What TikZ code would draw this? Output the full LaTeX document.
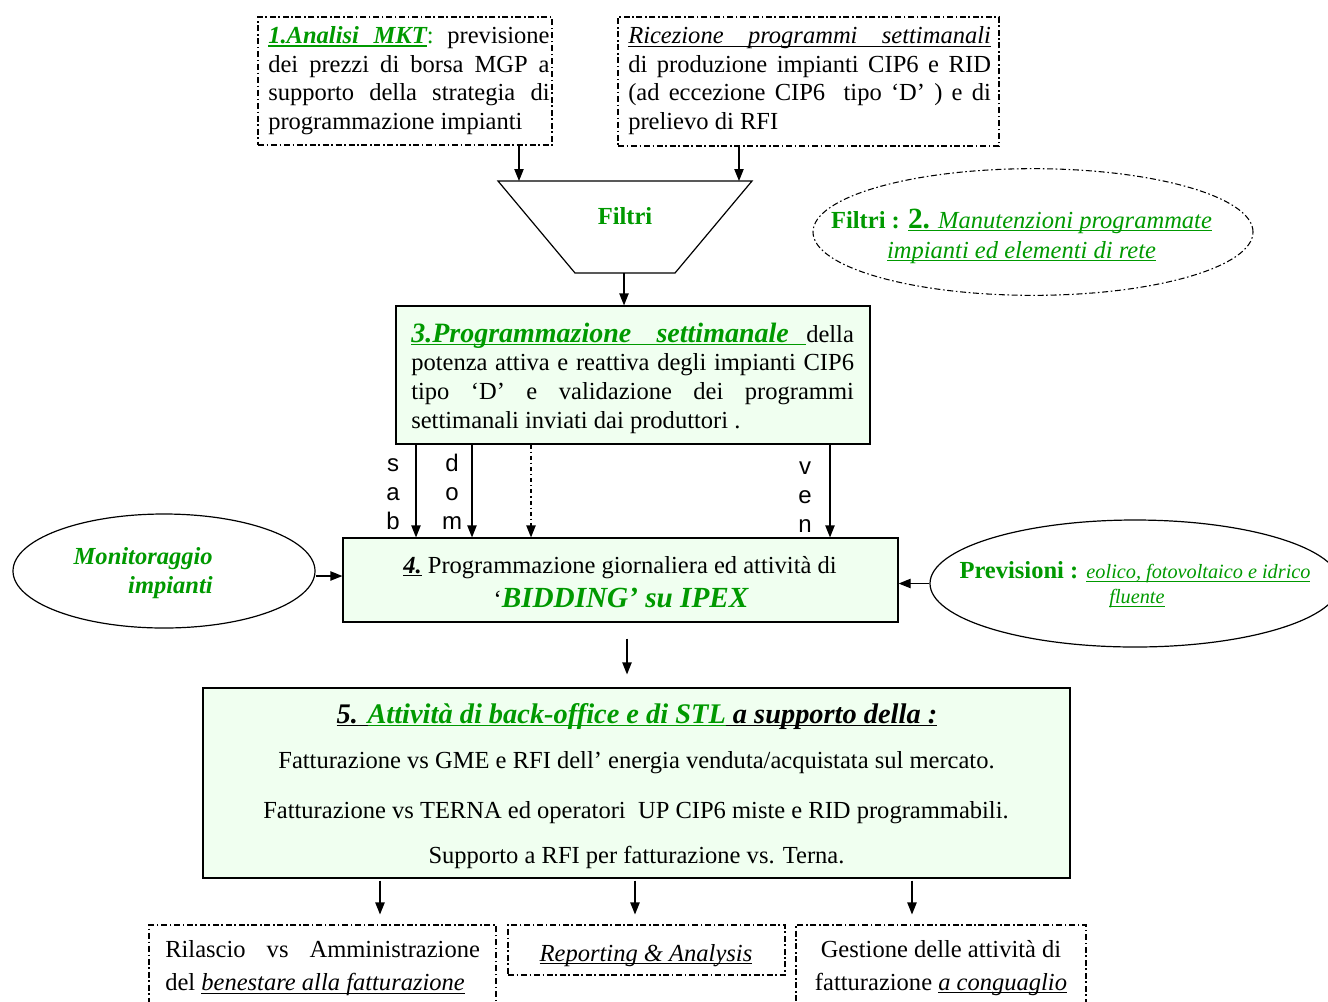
\documentclass[tikz,border=0pt]{standalone}
\usepackage{fontspec}
\setmainfont{Liberation Serif}
\newfontfamily\sansf{Liberation Sans}
\usetikzlibrary{arrows.meta,shapes.geometric,fit,calc}
\definecolor{vgreen}{RGB}{0,153,0}
\definecolor{lgfill}{RGB}{240,255,240}
\newcommand\tstr{\rule{0pt}{14pt}}
\newcommand\fs[1]{\fontsize{#1}{21.5}\selectfont}
\newsavebox\ulbox
\newcommand\ul[2][0.8pt]{\sbox\ulbox{#2}\rlap{\rule[-2.6pt]{\wd\ulbox}{#1}}\usebox\ulbox}
\newcommand\gul[2][0.8pt]{\textcolor{vgreen}{\ul[#1]{#2}}}
\begin{document}
\begin{tikzpicture}[x=0.75pt,y=-0.75pt,
  ddash/.style={draw, line width=0.8pt, dash pattern=on 4.5pt off 2pt on 1.2pt off 2pt},
  solidbox/.style={draw, line width=0.9pt, inner sep=0pt},
  gbox/.style={solidbox, fill=lgfill},
  arr/.style={line width=0.9pt, -{Triangle[length=9pt,width=7pt]}},
  dtxt/.style={inner sep=0pt, font=\fs{18.4}, align=justify},
  ltxt/.style={inner sep=0pt, font=\fs{18.4}, anchor=base},
  sansl/.style={inner sep=0pt, font=\sansf\fontsize{18}{20}\selectfont, anchor=base},
  ]
\useasboundingbox (0,0) rectangle (1328,1001);

% x positions for vertical connectors
\path (416,0) coordinate (xa) (472,0) coordinate (xb) (531,0) coordinate (xc)
      (830,0) coordinate (xd) (627,0) coordinate (xm)
      (380,0) coordinate (xs1) (635,0) coordinate (xs2) (912,0) coordinate (xs3)
      (0,576) coordinate (ya);

% ---- top boxes
\node[ddash, inner sep=0pt, fit={(258,17) (552,145)}] (b1) {};
\node[dtxt, text width=211pt, anchor=north west] (t1) at (268,24.5)
 {\tstr{\bfseries\itshape\gul[1.2pt]{1.Analisi\hspace{0.6em}MKT}}\textcolor{vgreen}{:} previsione\linebreak dei prezzi di borsa MGP a\linebreak supporto della strategia di\linebreak programmazione impianti};

\node[ddash, inner sep=0pt, fit={(618,17) (999,146)}] (b2) {};
\node[dtxt, text width=272pt, anchor=north west] (t2) at (628,24.5)
 {\tstr\ul{\makebox[272pt][s]{\itshape Ricezione programmi settimanali}}\linebreak di produzione impianti CIP6 e RID\linebreak (ad eccezione CIP6~ tipo ‘D’ ) e di\linebreak prelievo di RFI};

% ---- filter trapezoid
\coordinate (ft1) at (519,181);
\coordinate (ft2) at (739,181);
\coordinate (fbot) at (624,273);
\draw[line width=0.9pt] (498,181) -- (752,181) -- (675,273) -- (575,273) -- cycle;
\node[ltxt, font=\fs{18.4}\bfseries, text=vgreen] (filt) at (625,224) {Filtri};
\draw[arr] (b1.south -| ft1) -- (ft1);
\draw[arr] (b2.south -| ft2) -- (ft2);

% ---- ellipse 2
\node[ellipse, ddash, minimum width=330pt, minimum height=95pt, inner sep=0pt] (e2) at (1033,232) {};
\node[ltxt, text=vgreen] (te2a) at (1021.5,228)
 {\textbf{Filtri :} \ul{\textbf{\fontsize{22}{22}\selectfont 2.}\textit{ Manutenzioni programmate}}};
\node[ltxt, text=vgreen] (te2b) at (1021.5,258) {\ul{\textit{impianti ed elementi di rete}}};

% ---- box 3
\node[gbox, fit={(396,306) (870,444)}] (b3) {};
\draw[arr] (fbot) -- (b3.north -| fbot);
\node[dtxt, text width=332pt, anchor=north west] (t3) at (411,322.3)
 {\tstr{\fontsize{21}{21.5}\selectfont\bfseries\itshape\gul[1.3pt]{3.Programmazione\hspace{0.9em}settimanale\hspace{0.6em}}}\hfill della\linebreak potenza attiva e reattiva degli impianti CIP6\linebreak tipo ‘D’ e validazione dei programmi\linebreak settimanali inviati dai produttori .};

% ---- box 4
\node[gbox, fit={(343,538) (898,622)}] (b4) {};
\node[ltxt] (t4a) at (620,573) {\ul[1.2pt]{\textbf{\textit{4.}}} Programmazione giornaliera ed attività di};
\node[ltxt] (t4b) at (621,607) {‘\textcolor{vgreen}{\fontsize{21.9}{22}\selectfont\bfseries\itshape BIDDING’ su IPEX}};

% connectors box3 -> box4
\draw[arr] (b3.south -| xa) -- (b4.north -| xa);
\draw[arr] (b3.south -| xb) -- (b4.north -| xb);
\draw[arr, dash pattern=on 3pt off 2.2pt on 1pt off 2.2pt] (b3.south -| xc) -- (b4.north -| xc);
\draw[arr] (b3.south -| xd) -- (b4.north -| xd);
\foreach \c/\y [count=\i] in {s/471,a/500,b/529} \node[sansl] (ls\i) at (393,\y) {\c};
\foreach \c/\y [count=\i] in {d/471,o/500,m/529} \node[sansl] (ld\i) at (452,\y) {\c};
\foreach \c/\y [count=\i] in {v/474,e/503,n/532} \node[sansl] (lv\i) at (805,\y) {\c};

% ---- left ellipse
\node[ellipse, draw, line width=0.9pt, minimum width=226.5pt, minimum height=85.5pt, inner sep=0pt] (e3) at (164,571) {};
\node[ltxt, anchor=base east, font=\fs{18.4}\bfseries\itshape, text=vgreen] (t3m) at (213,564) {Monitoraggio};
\node[ltxt, anchor=base east, font=\fs{18.4}\bfseries\itshape, text=vgreen] (t3i) at (213,593) {impianti};
\draw[arr] (e3.east |- ya) -- (b4.west |- ya);

% ---- right ellipse
\node[ellipse, draw, line width=0.9pt, minimum width=307.5pt, minimum height=95.25pt, inner sep=0pt] (e4) at (1135,583.5) {};
\node[ltxt, text=vgreen] (t4p) at (1135,578)
 {{\bfseries Previsioni : }{\fontsize{15.2}{16}\selectfont\itshape\ul[0.7pt]{eolico, fotovoltaico e idrico}}};
\node[ltxt, text=vgreen, font=\fontsize{15.2}{16}\selectfont\itshape] (t4f) at (1137,603) {\ul[0.7pt]{fluente}};
\draw[arr] (e4.west) -- (b4.east |- e4.west);

% ---- box 5
\node[gbox, fit={(203,688) (1070,878)}] (b5) {};
\draw[arr, shorten <=12pt, shorten >=9.75pt] (b4.south -| xm) -- (b5.north -| xm);
\node[ltxt] (t5h) at (637,723)
 {\fontsize{21.3}{22}\selectfont\bfseries\itshape\ul[1.4pt]{5. }\gul[1.4pt]{Attività di back-office e di STL}\ul[1.4pt]{ a supporto della :}};
\node[ltxt] (t5a) at (636.5,768) {Fatturazione vs GME e RFI dell’ energia venduta/acquistata sul mercato.};
\node[ltxt] (t5b) at (636,818) {Fatturazione vs TERNA ed operatori~ UP CIP6 miste e RID programmabili.};
\node[ltxt] (t5c) at (636.5,863) {Supporto a RFI per fatturazione vs. Terna.};

% ---- bottom boxes
\node[ddash, inner sep=0pt, fit={(149,925) (496,1012)}] (bb1) {};
\node[ddash, inner sep=0pt, fit={(508,925) (785,975)}] (bb2) {};
\node[ddash, inner sep=0pt, fit={(796,925) (1086,1012)}] (bb3) {};
\draw[arr, shorten <=1.5pt, shorten >=7.5pt] (b5.south -| xs1) -- (bb1.north -| xs1);
\draw[arr, shorten <=1.5pt, shorten >=7.5pt] (b5.south -| xs2) -- (bb2.north -| xs2);
\draw[arr, shorten <=1.5pt, shorten >=7.5pt] (b5.south -| xs3) -- (bb3.north -| xs3);

\node[dtxt, font=\fontsize{18.4}{24.75}\selectfont, text width=236pt, anchor=north west] (tb1) at (165,938.3)
 {\tstr Rilascio vs Amministrazione\linebreak del \textit{\ul{benestare alla fatturazione}}};
\node[ltxt] (tb2) at (646,961) {\textit{\ul{Reporting \& Analysis}}};
\node[ltxt] (tb3a) at (941,957) {Gestione delle attività di};
\node[ltxt] (tb3b) at (941,990) {fatturazione \textit{\ul{a conguaglio}}};
\end{tikzpicture}
\end{document}
